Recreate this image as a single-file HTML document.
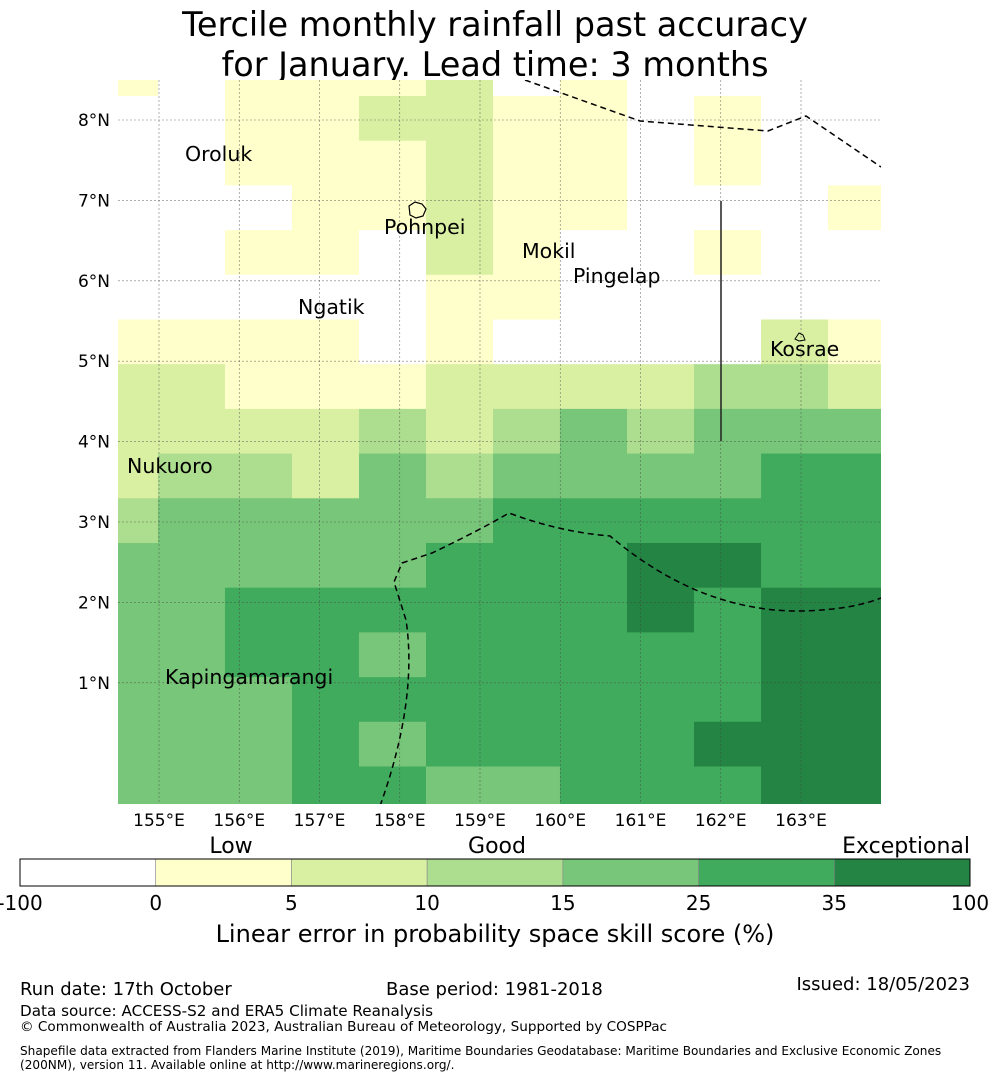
<!DOCTYPE html>
<html><head><meta charset="utf-8"><style>
body{margin:0;background:#fff;width:990px;height:1080px;overflow:hidden;font-family:"DejaVu Sans","Liberation Sans",sans-serif;}
svg{display:block}
</style></head><body>
<svg id="chart" width="990" height="1080" viewBox="0 0 990 1080" xmlns="http://www.w3.org/2000/svg" font-family="DejaVu Sans, Liberation Sans, sans-serif">
<text x="495" y="36" font-size="33.5" text-anchor="middle">Tercile monthly rainfall past accuracy</text>
<text x="495" y="76" font-size="33.5" text-anchor="middle">for January. Lead time: 3 months</text>
<defs><clipPath id="mapclip"><rect x="118" y="80" width="763" height="724"/></clipPath></defs>
<g id="cells" clip-path="url(#mapclip)"></g>
<g id="grid"></g>
<g clip-path="url(#mapclip)" fill="none" stroke="#000" stroke-width="1.5">
<path stroke-dasharray="6,4" d="M525,80 L640,121 L768,131 L806,116 L881,167"/>
<path stroke-dasharray="6,4" d="M380,806 Q418,700 406,620 L394,582 L402,563 L432,553 Q480,530 509,513 Q560,532 610,536 Q700,612 801,611 Q850,610 881,598"/>
<path stroke="#222" d="M721,201 L721,441"/>
<path stroke-width="1.2" d="M409,206 L415,202 L422,204 L426,209 L423,216 L416,218 L410,215 Z"/>
<path stroke-width="1" d="M795,339 L799,333 L803,335 L805,340 L799,341 Z"/>
</g>
<g font-size="20.5" fill="#000">
<text x="185" y="161">Oroluk</text>
<text x="384" y="234">Pohnpei</text>
<text x="522" y="258">Mokil</text>
<text x="573" y="283">Pingelap</text>
<text x="298" y="314">Ngatik</text>
<text x="770" y="356">Kosrae</text>
<text x="127" y="473">Nukuoro</text>
<text x="165" y="684">Kapingamarangi</text>
</g>
<g id="ticks" font-size="17"></g>
<g id="cbar"></g>
<text x="231" y="853" font-size="22" text-anchor="middle">Low</text>
<text x="497" y="853" font-size="22" text-anchor="middle">Good</text>
<text x="970" y="853" font-size="22" text-anchor="end">Exceptional</text>
<text x="495" y="942" font-size="24" text-anchor="middle">Linear error in probability space skill score (%)</text>
<text x="20" y="995" font-size="18">Run date: 17th October</text>
<text x="386" y="995" font-size="18">Base period: 1981-2018</text>
<text x="970" y="990" font-size="18" text-anchor="end">Issued: 18/05/2023</text>
<text x="20" y="1016" font-size="15.2">Data source: ACCESS-S2 and ERA5 Climate Reanalysis</text>
<text x="20" y="1031" font-size="13.6">© Commonwealth of Australia 2023, Australian Bureau of Meteorology, Supported by COSPPac</text>
<text x="20" y="1055" font-size="12.1">Shapefile data extracted from Flanders Marine Institute (2019), Maritime Boundaries Geodatabase: Maritime Boundaries and Exclusive Economic Zones</text>
<text x="20" y="1069" font-size="12.1">(200NM), version 11. Available online at http://www.marineregions.org/.</text>
</svg>
<script>
const colors = ["#ffffff","#ffffcc","#d9f0a3","#addd8e","#78c679","#41ab5d","#238443"];
const cbarTicks = ["-100","0","5","10","15","25","35","100"];
const lonTicks = [155,156,157,158,159,160,161,162,163];
const latTicks = [8,7,6,5,4,3,2,1];
// cell class index per row (north to south), columns west to east
const row0  = [1,0,1,1,1,2,0,1,0,0,0,0];
const row1  = [0,0,1,1,2,2,1,1,0,1,0,0];
const row2  = [0,0,1,1,1,2,1,1,0,1,0,0];
const row3  = [0,0,0,1,1,2,1,1,0,0,0,1];
const row4  = [0,0,1,1,0,2,1,0,0,1,0,0];
const row5  = [0,0,0,0,0,1,1,0,0,0,0,0];
const row6  = [1,1,1,1,0,1,0,0,0,0,2,1];
const row7  = [2,2,1,1,1,2,2,2,2,3,3,2];
const row8  = [2,2,2,2,3,2,3,4,3,4,4,4];
const row9  = [2,3,3,2,4,3,4,4,4,4,5,5];
const row10 = [3,4,4,4,4,4,5,5,5,5,5,5];
const row11 = [4,4,4,4,4,5,5,5,6,6,5,5];
const row12 = [4,4,5,5,5,5,5,5,6,5,6,6];
const row13 = [4,4,5,5,4,5,5,5,5,5,6,6];
const row14 = [4,4,4,5,5,5,5,5,5,5,6,6];
const row15 = [4,4,4,5,4,5,5,5,5,6,6,6];
const row16 = [4,4,4,5,5,4,4,5,5,5,6,6];
const rows = [row0,row1,row2,row3,row4,row5,row6,row7,row8,row9,row10,row11,row12,row13,row14,row15,row16];

const NS="http://www.w3.org/2000/svg";
const xOf = lon => 159 + (lon-155)*80.25;
const yOf = lat => 120 + (8-lat)*80.4;
const lonStep = 0.835, latStep = 0.556;
const lon0 = 154.152, lat0 = 8.855; // top-left corner of first cell
function mk(tag, attrs, parent){const e=document.createElementNS(NS,tag);for(const k in attrs)e.setAttribute(k,attrs[k]);parent.appendChild(e);return e;}

const cells=document.getElementById('cells');
rows.forEach((r,i)=>{r.forEach((c,j)=>{
  const x1=xOf(lon0+j*lonStep), x2=xOf(lon0+(j+1)*lonStep);
  const y1=yOf(lat0-i*latStep), y2=yOf(lat0-(i+1)*latStep);
  const e=mk('rect',{x:x1,y:y1,width:x2-x1+0.5,height:y2-y1+0.5,fill:colors[c]},cells);
  
  
});});

const grid=document.getElementById('grid'), ticks=document.getElementById('ticks');
lonTicks.forEach(l=>{
  const x=xOf(l);
  const g=mk('line',{x1:x,x2:x,y1:80,y2:804,stroke:'#444','stroke-width':0.6,'stroke-dasharray':'2,2','stroke-opacity':0.7},grid);
  
  
  const t=mk('text',{x:x,y:826,'text-anchor':'middle'},ticks);t.textContent=l+'°E';
  
  
});
latTicks.forEach(l=>{
  const y=yOf(l);
  const g=mk('line',{x1:118,x2:881,y1:y,y2:y,stroke:'#444','stroke-width':0.6,'stroke-dasharray':'2,2','stroke-opacity':0.7},grid);
  
  
  const t=mk('text',{x:110,y:y+6,'text-anchor':'end'},ticks);t.textContent=l+'°N';
  
  
});

const cb=document.getElementById('cbar');
const cbX=20, cbW=950, cbY=859, cbH=27, seg=cbW/colors.length;
colors.forEach((c,i)=>{
  const r=mk('rect',{x:cbX+i*seg,y:cbY,width:seg,height:cbH,fill:c,stroke:'#888','stroke-width':0.6},cb);
  
  
});
mk('rect',{x:cbX,y:cbY,width:cbW,height:cbH,fill:'none',stroke:'#000','stroke-width':1},cb);
cbarTicks.forEach((t,i)=>{
  const e=mk('text',{x:cbX+i*seg,y:910,'font-size':20,'text-anchor':'middle'},cb);e.textContent=t;
  
  
});
</script>
</body></html>
